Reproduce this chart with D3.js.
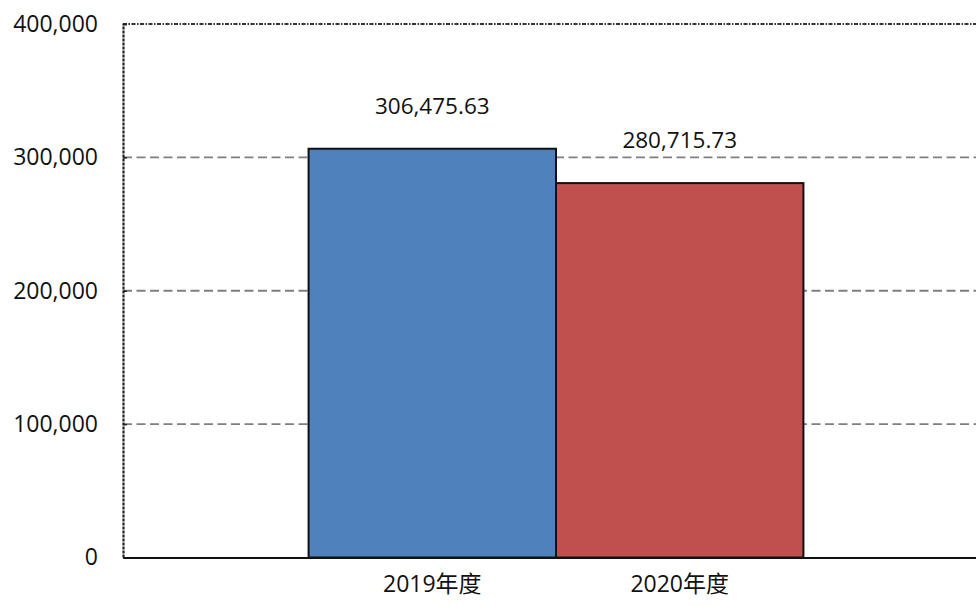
<!DOCTYPE html>
<html>
<head>
<meta charset="utf-8">
<script src="https://cdn.jsdelivr.net/npm/d3@7"></script>
<style>
  body { margin: 0; background: #fff; }
  svg { display: block; font-family: "Open Sans", "Noto Sans CJK SC", sans-serif; }
</style>
</head>
<body>
<svg id="chart"></svg>
<script>
const categories = ['2019年度', '2020年度'];
const values = [306475.63, 280715.73];
const colors = ['#4f81bd', '#c0504d'];
const yTicks = [0, 100000, 200000, 300000, 400000];

const width = 976, height = 605;
const plotLeft = 123, plotRight = 989, plotTop = 24, plotBottom = 557.5;

const svg = d3.select('#chart')
  .attr('width', width)
  .attr('height', height);

const x = d3.scaleBand()
  .domain(categories)
  .range([plotLeft, plotRight])
  .paddingInner(0)
  .paddingOuter(0.75);

const y = d3.scaleLinear()
  .domain([0, 400000])
  .range([plotBottom, plotTop]);

const fmt = d3.format(',');

// gridlines (dashed)
svg.append('g')
  .selectAll('line')
  .data(yTicks.filter(d => d > 0 && d < 400000))
  .enter()
  .append('line')
  .attr('x1', plotLeft).attr('x2', plotRight)
  .attr('y1', d => y(d)).attr('y2', d => y(d))
  .attr('stroke', '#7f7f7f')
  .attr('stroke-width', 1.8)
  .attr('stroke-dasharray', '9,4.5');

// top border of plot area
svg.append('line')
  .attr('x1', plotLeft).attr('x2', plotRight)
  .attr('y1', y(400000)).attr('y2', y(400000))
  .attr('stroke', '#333')
  .attr('stroke-width', 1.8)
  .attr('stroke-dasharray', '4,1.5,1.5,1.5');

// bars
svg.append('g')
  .selectAll('rect')
  .data(values)
  .enter()
  .append('rect')
  .attr('x', (d, i) => x(categories[i]))
  .attr('y', d => y(d))
  .attr('width', x.bandwidth())
  .attr('height', d => y(0) - y(d))
  .attr('fill', (d, i) => colors[i])
  .attr('stroke', '#111')
  .attr('stroke-width', 2);

// value labels
svg.append('g')
  .selectAll('text')
  .data(values)
  .enter()
  .append('text')
  .attr('x', (d, i) => x(categories[i]) + x.bandwidth() / 2)
  .attr('y', d => y(d) - 35)
  .attr('text-anchor', 'middle')
  .style('font-size', '22.5px')
  .style('fill', '#111')
  .text(d => d3.format(',.2f')(d));

// y axis
const yAxis = svg.append('g')
  .attr('transform', `translate(${plotLeft},0)`)
  .call(d3.axisLeft(y).tickValues(yTicks).tickFormat(fmt).tickSize(-4).tickPadding(25));
yAxis.select('.domain')
  .attr('stroke', '#222')
  .attr('stroke-width', 2.2)
  .attr('stroke-dasharray', '3,1');
yAxis.selectAll('.tick line').attr('stroke', '#222').attr('stroke-width', 1.5);
yAxis.selectAll('.tick text')
  .style('font-size', '23px')
  .style('font-family', '"Open Sans", sans-serif')
  .attr('fill', '#111');

// x axis
const xAxis = svg.append('g')
  .attr('transform', `translate(0,${plotBottom})`)
  .call(d3.axisBottom(x).tickSize(0).tickPadding(18));
xAxis.select('.domain')
  .attr('stroke', '#111')
  .attr('stroke-width', 2.2);
xAxis.selectAll('.tick text')
  .style('font-size', '23px')
  .style('font-family', '"Open Sans", "Noto Sans CJK SC", sans-serif')
  .attr('fill', '#111');
</script>
</body>
</html>
